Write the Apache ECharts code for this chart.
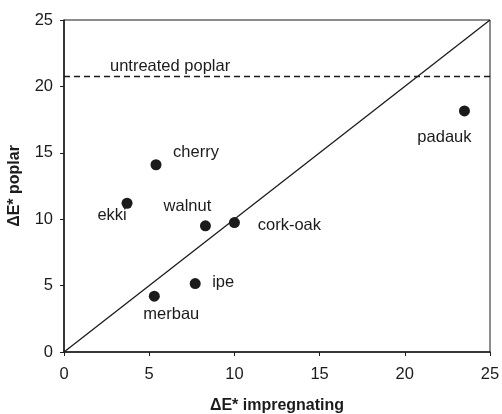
<!DOCTYPE html>
<html>
<head>
<meta charset="utf-8">
<script src="https://cdn.jsdelivr.net/npm/echarts@6/dist/echarts.min.js"></script>
<style>
  html, body { margin: 0; padding: 0; background: #fff; }
  #chart { width: 502px; height: 414px; }
</style>
</head>
<body>
<div id="chart"></div>
<script>
// Colour change of each impregnated wood species (ΔE*) against poplar
const species = ['cherry', 'ekki', 'walnut', 'cork-oak', 'ipe', 'merbau', 'padauk'];
const deltaImpregnating = [5.4, 3.7, 8.3, 10.0, 7.7, 5.3, 23.5];
const deltaPoplar = [14.1, 11.2, 9.5, 9.75, 5.15, 4.2, 18.15];
const untreatedPoplar = 20.8;
const axisTicks = [0, 5, 10, 15, 20, 25];

// label offsets (px) from each marker centre
const labelOffsets = {
  'cherry': [40, -12],
  'ekki': [-15, 12],
  'walnut': [-18, -19],
  'cork-oak': [55, 3],
  'ipe': [28, -1],
  'merbau': [17, 18],
  'padauk': [-20, 26]
};

const ink = '#1b1b1b';
const font = '"Liberation Sans", Arial, sans-serif';
const textSize = 16.5;

const points = species.map((name, i) => ({
  name: name,
  value: [deltaImpregnating[i], deltaPoplar[i]],
  label: { offset: labelOffsets[name] }
}));

const chart = echarts.init(document.getElementById('chart'), null, { renderer: 'canvas' });

const axisCommon = {
  min: axisTicks[0],
  max: axisTicks[axisTicks.length - 1],
  interval: 5,
  axisLine: { show: true, lineStyle: { color: ink, width: 1.5 } },
  axisTick: { show: true, inside: false, length: 4, lineStyle: { color: ink } },
  splitLine: { show: false },
  nameLocation: 'middle',
  nameTextStyle: { color: ink, fontSize: 16, fontWeight: 'bold', fontFamily: font }
};

chart.setOption({
  animation: false,
  backgroundColor: '#fff',
  grid: {
    left: 64, top: 20, right: 12, bottom: 62,
    containLabel: false,
    outerBoundsMode: 'none',
    show: true, borderColor: ink, borderWidth: 1, backgroundColor: 'transparent'
  },
  xAxis: Object.assign({}, axisCommon, {
    type: 'value',
    name: 'ΔE* impregnating',
    nameGap: 46,
    axisLabel: { color: ink, fontSize: textSize, fontFamily: font, margin: 14 }
  }),
  yAxis: Object.assign({}, axisCommon, {
    type: 'value',
    name: 'ΔE* poplar',
    nameGap: 41,
    axisLabel: { color: ink, fontSize: textSize, fontFamily: font, margin: 11 }
  }),
  series: [
    {
      // 1:1 reference line
      type: 'line',
      data: [[0, 0], [25, 25]],
      showSymbol: false,
      symbol: 'none',
      lineStyle: { color: ink, width: 1.3 },
      silent: true,
      z: 1,
      markLine: {
        silent: true,
        symbol: 'none',
        lineStyle: { color: ink, width: 1.3, type: [6, 4] },
        label: {
          show: true,
          position: 'insideStartTop',
          formatter: 'untreated poplar',
          color: ink,
          fontSize: textSize,
          fontFamily: font,
          distance: [46, 1]
        },
        data: [{ yAxis: untreatedPoplar }]
      }
    },
    {
      type: 'scatter',
      data: points,
      symbol: 'circle',
      symbolSize: 11,
      itemStyle: { color: ink, opacity: 1 },
      z: 3,
      label: {
        show: true,
        position: 'inside',
        formatter: '{b}',
        color: ink,
        fontSize: textSize,
        fontFamily: font,
        align: 'center',
        verticalAlign: 'middle'
      }
    }
  ]
});
</script>
</body>
</html>
